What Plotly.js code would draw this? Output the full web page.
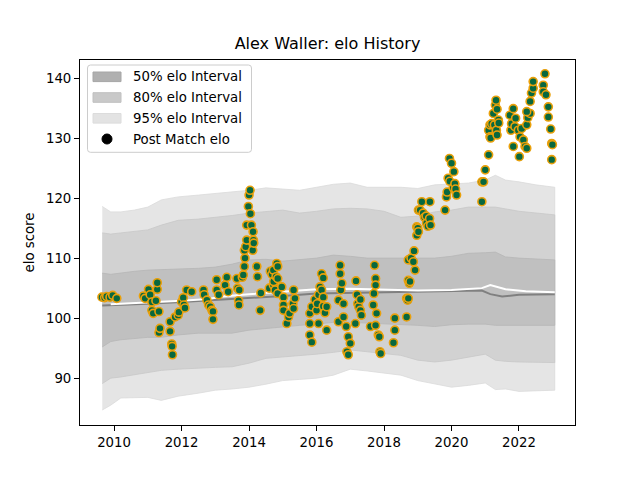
<!DOCTYPE html>
<html>
<head>
<meta charset="utf-8">
<script src="https://cdn.plot.ly/plotly-3.0.1.min.js"></script>
<style>html,body{margin:0;padding:0;background:#fff;}#chart{width:640px;height:480px;}</style>
</head>
<body>
<div id="chart"></div>
<script>
// ---- Data ----
const bandYears = [2009.65, 2009.9, 2010.2, 2010.6, 2011.0, 2011.4, 2011.9, 2012.5, 2013.0, 2013.5, 2014.0, 2014.5, 2015.0, 2015.5, 2016.0, 2016.5, 2017.0, 2017.5, 2018.0, 2018.5, 2019.0, 2019.5, 2020.0, 2020.5, 2021.0, 2021.3, 2021.6, 2022.0, 2022.5, 2023.06];
const upper95 = [118.6, 117.7, 117.7, 118.0, 118.5, 119.7, 120.2, 120.5, 120.8, 121.0, 121.3, 121.7, 121.5, 121.3, 121.8, 122.3, 122.5, 121.8, 121.8, 121.8, 121.6, 122.2, 122.3, 122.5, 123.0, 123.8, 123.0, 122.7, 122.2, 121.8];
const upper80 = [114.2, 114.0, 114.2, 114.5, 114.7, 115.5, 116.3, 116.5, 116.8, 117.1, 117.5, 117.8, 118.0, 117.5, 117.8, 118.2, 118.3, 118.2, 117.8, 116.8, 117.0, 117.7, 118.0, 118.5, 118.5, 118.5, 118.2, 117.8, 117.5, 117.2];
const upper50 = [107.5, 107.3, 107.5, 107.8, 108.0, 108.1, 108.2, 108.3, 108.5, 109.0, 109.7, 109.8, 109.5, 109.7, 110.0, 110.5, 110.3, 110.0, 110.0, 110.0, 110.0, 110.0, 110.3, 110.8, 110.9, 111.0, 110.2, 110.0, 109.8, 109.7];
const lower50 = [95.2, 96.1, 96.4, 96.6, 96.8, 96.8, 97.2, 97.5, 97.5, 97.5, 98.0, 98.3, 98.6, 98.8, 99.0, 99.3, 99.3, 99.2, 99.1, 99.0, 98.8, 98.6, 98.9, 99.0, 99.0, 98.8, 98.8, 98.8, 98.8, 98.8];
const lower80 = [89.1, 90.0, 90.2, 90.6, 91.0, 91.3, 91.5, 91.7, 91.8, 91.9, 92.5, 93.3, 93.5, 93.8, 94.0, 94.3, 94.7, 94.4, 94.1, 93.8, 93.0, 92.7, 93.0, 93.5, 94.0, 93.0, 92.8, 92.7, 92.6, 92.6];
const lower95 = [84.7, 85.5, 86.7, 86.8, 86.8, 86.3, 87.0, 87.5, 88.0, 88.2, 88.5, 89.0, 89.6, 89.8, 90.0, 90.5, 91.5, 91.2, 90.8, 90.5, 89.6, 89.0, 88.5, 88.8, 89.2, 88.1, 88.2, 87.8, 87.9, 88.0];

const grayYears = [2009.65, 2010.2, 2011.0, 2012.0, 2013.0, 2014.0, 2015.0, 2016.0, 2017.0, 2018.0, 2019.0, 2020.0, 2020.9, 2021.15, 2021.5, 2022.0, 2023.06];
const grayElo   = [102.1, 102.2, 102.4, 102.7, 103.0, 103.3, 103.7, 104.1, 104.2, 104.2, 104.3, 104.4, 104.6, 104.0, 103.6, 103.9, 104.0];
const whiteYears = [2009.9, 2011.2, 2012.0, 2012.8, 2013.2, 2014.0, 2015.0, 2016.0, 2017.0, 2018.0, 2019.0, 2020.0, 2020.9, 2021.15, 2021.6, 2022.2, 2023.06];
const whiteElo   = [102.3, 102.6, 102.9, 103.2, 103.6, 104.0, 104.4, 104.8, 104.9, 104.8, 104.6, 104.7, 105.0, 105.5, 104.8, 104.5, 104.3];

const matchYears = [
 2009.64,2009.72,2009.78,2009.88,2009.96,2010.08,2010.87,2010.92,2011.02,2011.07,
 2011.12,2011.12,2011.16,2011.24,2011.28,2011.28,2011.33,2011.33,2011.36,2011.66,
 2011.66,2011.71,2011.72,2011.73,2011.81,2011.90,2011.92,2012.00,2012.05,2012.07,
 2012.10,2012.15,2012.30,2012.65,2012.67,2012.75,2012.80,2012.85,2012.90,2012.93,
 2012.93,2013.04,2013.04,2013.10,2013.29,2013.34,2013.38,2013.64,2013.66,2013.69,
 2013.70,2013.71,2013.80,2013.83,2013.86,2013.88,2013.86,2013.90,2013.93,2013.93,
 2013.98,2014.00,2014.03,2014.04,2014.07,2014.11,2014.12,2014.13,2014.14,2014.23,
 2014.25,2014.33,2014.35,2014.60,2014.63,2014.68,2014.72,2014.72,2014.73,2014.77,
 2014.80,2014.82,2014.85,2014.85,2014.85,2014.97,2015.02,2015.02,2015.02,2015.12,
 2015.17,2015.20,2015.30,2015.32,2015.32,2015.36,2015.80,2015.80,2015.80,2015.86,
 2015.86,2015.95,2016.00,2016.02,2016.06,2016.06,2016.10,2016.15,2016.15,2016.20,
 2016.20,2016.20,2016.25,2016.30,2016.30,2016.65,2016.65,2016.70,2016.70,2016.72,
 2016.75,2016.80,2016.80,2016.88,2016.90,2016.94,2016.94,2017.00,2017.15,2017.17,
 2017.20,2017.22,2017.25,2017.30,2017.30,2017.33,2017.60,2017.68,2017.70,2017.72,
 2017.75,2017.75,2017.75,2017.78,2017.83,2017.86,2017.88,2017.90,2018.28,2018.32,
 2018.32,2018.67,2018.67,2018.70,2018.72,2018.72,2018.75,2018.77,2018.72,2018.80,
 2018.87,2018.89,2018.92,2018.97,2018.97,2019.00,2019.02,2019.02,2019.07,2019.12,
 2019.16,2019.20,2019.25,2019.26,2019.30,2019.35,2019.36,2019.38,2019.81,2019.85,
 2019.87,2019.90,2019.94,2019.95,2020.00,2020.05,2020.07,2020.10,2020.12,2020.15,
 2020.90,2020.90,2020.95,2021.00,2021.10,2021.10,2021.14,2021.16,2021.14,2021.19,
 2021.24,2021.27,2021.30,2021.32,2021.33,2021.35,2021.35,2021.39,2021.40,2021.76,
 2021.78,2021.73,2021.83,2021.83,2021.88,2021.90,2021.98,2022.01,2022.03,2022.13,
 2022.18,2022.08,2022.23,2022.23,2022.26,2022.33,2022.23,2022.33,2022.37,2022.42,
 2022.42,2022.72,2022.77,2022.72,2022.80,2022.87,2022.87,2022.94,2022.97,2022.99,
 2022.97
];
const postMatchElo = [
 103.5,103.4,103.6,103.5,103.8,103.3,103.7,103.3,104.8,103.9,
 102.7,101.3,100.8,102.9,104.8,105.9,101.1,97.6,98.3,97.8,
 99.4,95.7,95.3,93.9,100.2,100.5,101.0,102.7,103.4,102.2,
 101.7,104.7,104.4,104.7,103.9,103.0,102.2,101.9,101.3,101.1,
 99.8,106.4,104.7,103.9,105.5,106.8,104.4,106.6,105.0,102.9,
 102.2,104.7,106.8,107.2,108.6,110.0,111.3,111.9,113.0,115.5,
 118.6,120.5,121.3,117.4,115.5,111.3,114.4,113.0,112.5,108.6,
 106.9,101.3,104.2,105.0,107.8,107.3,108.0,105.5,106.1,104.7,
 106.9,109.1,108.6,106.6,104.1,105.2,103.5,102.2,101.3,99.1,
 100.2,100.8,102.4,104.7,101.6,103.3,100.8,99.1,97.2,96.0,
 101.9,103.1,101.3,102.4,103.9,99.1,105.2,107.4,104.7,106.7,
 103.5,102.0,100.9,101.9,98.0,103.0,99.4,108.8,107.4,104.7,
 105.8,102.4,100.2,98.6,94.4,96.9,93.9,95.8,99.1,106.2,
 103.9,102.4,101.9,103.1,101.3,100.5,98.6,102.2,104.1,108.8,
 106.6,105.5,98.8,100.8,97.2,96.9,94.4,94.1,95.9,98.0,
 100.0,100.2,103.3,103.0,103.3,106.3,105.8,106.1,109.7,110.0,
 109.4,111.2,108.0,113.8,115.2,115.0,114.4,118.0,118.0,119.4,
 117.5,116.8,117.0,115.8,115.3,116.6,119.4,115.5,118.0,120.2,
 121.0,123.3,126.6,122.8,125.8,121.7,124.4,122.4,121.5,120.5,
 119.4,122.7,122.7,124.7,127.2,131.3,130.2,130.0,132.2,132.4,
 134.1,132.2,135.5,136.3,131.3,134.8,130.5,133.0,132.5,131.3,
 132.4,133.8,134.9,128.6,131.9,133.3,131.3,126.9,130.2,129.7,
 128.6,131.6,132.2,128.3,133.4,134.1,134.4,136.1,137.5,138.3,
 139.4,138.8,140.7,137.7,137.2,135.2,133.5,131.5,129.1,128.9,
 126.4
];

const legendLabels = ["50% elo Interval", "80% elo Interval", "95% elo Interval", "Post Match elo"];

// ---- Build traces ----
function band(lower, upper, color, edge) {
  return {
    x: bandYears.concat(bandYears.slice().reverse()),
    y: lower.concat(upper.slice().reverse()),
    type: 'scatter', mode: 'lines', fill: 'toself',
    fillcolor: color, line: {width: 0.8, color: edge},
    hoverinfo: 'skip', showlegend: false
  };
}
const traces = [
  band(lower95, upper95, '#e5e5e5', '#dadada'),
  band(lower80, upper80, '#d2d2d2', '#c8c8c8'),
  band(lower50, upper50, '#c0c0c0', '#b6b6b6'),
  {x: grayYears, y: grayElo, type: 'scatter', mode: 'lines', line: {color: '#808080', width: 2}, showlegend: false},
  {x: whiteYears, y: whiteElo, type: 'scatter', mode: 'lines', line: {color: '#ffffff', width: 2}, showlegend: false},
  {x: matchYears, y: postMatchElo, type: 'scatter', mode: 'markers',
   marker: {size: 8, color: '#08683f', line: {color: '#eaa00a', width: 1.6}}, showlegend: false}
];

// ---- Manual legend (pixel -> paper helpers) ----
const L = 80, R = 575, T = 60, B = 425;
const px = v => (v - L) / (R - L);
const py = v => (B - v) / (B - T);
function rect(x0, y0, x1, y1, fill, line) {
  return {type: 'rect', xref: 'paper', yref: 'paper', x0: px(x0), x1: px(x1), y0: py(y1), y1: py(y0),
          fillcolor: fill, line: {color: line, width: 1}, layer: 'above'};
}
function roundRect(x0, y0, x1, y1, r) {
  const X = v => px(v), Y = v => py(v);
  const p = `M ${X(x0 + r)} ${Y(y0)} L ${X(x1 - r)} ${Y(y0)} Q ${X(x1)} ${Y(y0)} ${X(x1)} ${Y(y0 + r)} ` +
            `L ${X(x1)} ${Y(y1 - r)} Q ${X(x1)} ${Y(y1)} ${X(x1 - r)} ${Y(y1)} L ${X(x0 + r)} ${Y(y1)} ` +
            `Q ${X(x0)} ${Y(y1)} ${X(x0)} ${Y(y1 - r)} L ${X(x0)} ${Y(y0 + r)} Q ${X(x0)} ${Y(y0)} ${X(x0 + r)} ${Y(y0)} Z`;
  return {type: 'path', xref: 'paper', yref: 'paper', path: p, fillcolor: 'rgba(255,255,255,0.8)',
          line: {color: '#cccccc', width: 1}, layer: 'above'};
}
const rowY = [76.8, 97.5, 118.3, 139];
const swatchColors = ['#b0b0b0', '#c9c9c9', '#e3e3e3'];
const swatchEdges = ['#a6a6a6', '#c0c0c0', '#dcdcdc'];
const shapes = [roundRect(87.5, 65, 251.5, 152.3, 3)];
for (let i = 0; i < 3; i++) shapes.push(rect(93, rowY[i] - 4.8, 121, rowY[i] + 4.8, swatchColors[i], swatchEdges[i]));
shapes.push({type: 'circle', xref: 'paper', yref: 'paper', x0: px(102), x1: px(112), y0: py(144), y1: py(134),
             fillcolor: '#000', line: {color: '#000', width: 1}, layer: 'above'});
const annotations = legendLabels.map((t, i) => ({
  text: t, xref: 'paper', yref: 'paper', x: px(130.5), y: py(rowY[i]), xanchor: 'left', yanchor: 'middle',
  showarrow: false, font: {family: 'DejaVu Sans', size: 13.3, color: '#000'}
}));

const axisCommon = {
  showline: true, mirror: true, linecolor: '#000', linewidth: 1,
  ticks: 'outside', ticklen: 5, tickwidth: 1, tickcolor: '#000',
  showgrid: false, zeroline: false,
  tickfont: {family: 'DejaVu Sans', size: 13.3, color: '#000'}
};

const layout = {
  width: 640, height: 480,
  margin: {l: L, r: 640 - R, t: T, b: 480 - B},
  paper_bgcolor: '#fff', plot_bgcolor: '#fff',
  font: {family: 'DejaVu Sans', color: '#000'},
  title: {text: 'Alex Waller: elo History', x: 0.5, xref: 'paper', xanchor: 'center',
          y: 1 - 43 / 480, yanchor: 'middle', font: {family: 'DejaVu Sans', size: 16, color: '#000'}},
  xaxis: Object.assign({}, axisCommon, {range: [2008.99, 2023.66], tick0: 2010, dtick: 2, tickformat: 'd'}),
  yaxis: Object.assign({}, axisCommon, {range: [82.2, 143.0], tick0: 90, dtick: 10,
          title: {text: 'elo score', standoff: 8, font: {family: 'DejaVu Sans', size: 13.3, color: '#000'}}}),
  showlegend: false,
  shapes: shapes,
  annotations: annotations
};

Plotly.newPlot('chart', traces, layout, {displayModeBar: false, staticPlot: true});
</script>
</body>
</html>
